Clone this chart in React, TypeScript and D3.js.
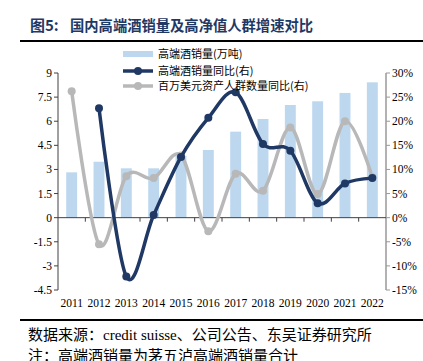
import React from "react";
import * as d3 from "d3";

const years = ["2011","2012","2013","2014","2015","2016","2017","2018","2019","2020","2021","2022"];
const salesVolume = [2.82, 3.48, 3.07, 3.07, 3.85, 4.21, 5.35, 6.14, 7.01, 7.24, 7.76, 8.42];
const salesYoY: (number | null)[] = [null, 22.7, -12.2, 0.55, 12.6, 20.7, 26.0, 15.3, 13.9, 3.0, 7.1, 8.2];
const hnwiYoY = [26.2, -5.5, 8.6, 8.2, 12.9, -2.8, 9.1, 5.6, 18.7, 4.9, 20.0, 8.4];
const leftTicks = [9, 7.5, 6, 4.5, 3, 1.5, 0, -1.5, -3, -4.5];
const rightTicks = [30, 25, 20, 15, 10, 5, 0, -5, -10, -15];

const DARK = "#1f3864";
const GRAY = "#b8b8b8";
const BAR = "#bdd7ee";
const SERIF = "'Liberation Serif', 'Noto Sans CJK SC', serif";
const CJK = "'Noto Sans CJK SC', 'Liberation Serif', serif";

export default function App() {
  const W = 423, H = 361;
  const x0 = 58, x1 = 386, yTop = 73, yBot = 290;
  const x = d3.scaleBand<string>().domain(years).range([x0, x1]);
  const yL = d3.scaleLinear().domain([-4.5, 9]).range([yBot, yTop]);
  const yR = d3.scaleLinear().domain([-15, 30]).range([yBot, yTop]);
  const cx = (y: string) => (x(y) as number) + x.bandwidth() / 2;
  const barW = x.bandwidth() * 0.4;

  const curve = d3.curveCardinal.tension(0);
  const salesPts = years.map((y, i) => [y, salesYoY[i]] as [string, number | null]).filter(d => d[1] !== null) as [string, number][];
  const lineGen = d3.line<[string, number]>().x(d => cx(d[0])).y(d => yR(d[1])).curve(curve);
  const hnwiPts = years.map((y, i) => [y, hnwiYoY[i]] as [string, number]);

  return (
    <svg width={W} height={H} style={{ position: "absolute", left: 0, top: 0, background: "#fff" }}>
      <text x={30} y={31} fontFamily={CJK} fontWeight="bold" fontSize={15} fill={DARK}>图5:</text>
      <text x={70} y={31} fontFamily={CJK} fontWeight="bold" fontSize={14.3} fill={DARK}>国内高端酒销量及高净值人群增速对比</text>
      <line x1={20} x2={423} y1={41} y2={41} stroke="#000" strokeWidth={2} />

      {years.map((y, i) => (
        <rect key={y} x={cx(y) - barW / 2} y={yL(salesVolume[i])} width={barW} height={yL(0) - yL(salesVolume[i])} fill={BAR} />
      ))}

      {/* left axis */}
      <line x1={x0} x2={x0} y1={yTop} y2={yBot} stroke="#404040" strokeWidth={1} />
      {leftTicks.map(t => (
        <g key={t}>
          <line x1={x0 - 4} x2={x0} y1={yL(t)} y2={yL(t)} stroke="#404040" />
          <text x={x0 - 6} y={yL(t) + 4} textAnchor="end" fontFamily={SERIF} fontSize={11.5} fill="#000">{t}</text>
        </g>
      ))}
      {/* right axis */}
      <line x1={x1} x2={x1} y1={yTop} y2={yBot} stroke="#999" strokeWidth={1.5} />
      {rightTicks.map(t => (
        <g key={t}>
          <line x1={x1} x2={x1 + 4} y1={yR(t)} y2={yR(t)} stroke="#999" />
          <text x={x1 + 6} y={yR(t) + 4} textAnchor="start" fontFamily={SERIF} fontSize={11.5} fill="#000">{t}%</text>
        </g>
      ))}
      {/* zero line */}
      <line x1={x0} x2={x1} y1={yL(0)} y2={yL(0)} stroke="#404040" strokeWidth={1} />
      {years.slice(1).map(y => (
        <line key={y} x1={x(y) as number} x2={x(y) as number} y1={yL(0)} y2={yL(0) + 4} stroke="#404040" />
      ))}
      {years.map(y => (
        <text key={y} x={cx(y)} y={307} textAnchor="middle" fontFamily={SERIF} fontSize={11.5} fill="#000">{y}</text>
      ))}

      {/* gray line */}
      <path d={lineGen(hnwiPts) || ""} fill="none" stroke={GRAY} strokeWidth={3.5} />
      {hnwiPts.map(d => <circle key={d[0]} cx={cx(d[0])} cy={yR(d[1])} r={4} fill={GRAY} />)}
      {/* dark line */}
      <path d={lineGen(salesPts) || ""} fill="none" stroke={DARK} strokeWidth={3.5} />
      {salesPts.map(d => <circle key={d[0]} cx={cx(d[0])} cy={yR(d[1])} r={4} fill={DARK} />)}

      {/* legend */}
      <rect x={123} y={51} width={30} height={6} fill={BAR} />
      <text x={158} y={58} fontFamily={CJK} fontSize={11} fill="#000">高端酒销量(万吨)</text>
      <line x1={123} x2={153} y1={71} y2={71} stroke={DARK} strokeWidth={3.5} />
      <circle cx={138} cy={71} r={4} fill={DARK} />
      <text x={158} y={75} fontFamily={CJK} fontSize={11} fill="#000">高端酒销量同比(右)</text>
      <line x1={123} x2={153} y1={86} y2={86} stroke={GRAY} strokeWidth={3.5} />
      <circle cx={138} cy={86} r={4} fill={GRAY} />
      <text x={158} y={90} fontFamily={CJK} fontSize={11} fill="#000">百万美元资产人群数量同比(右)</text>

      {/* footer */}
      <line x1={20} x2={423} y1={320} y2={320} stroke="#000" strokeWidth={2} />
      <text x={28} y={340} fontFamily={SERIF} fontSize={15} fill="#000">
        <tspan fontFamily={CJK}>数据来源：</tspan>credit suisse<tspan fontFamily={CJK}>、公司公告、东吴证券研究所</tspan>
      </text>
      <text x={28} y={361} fontFamily={CJK} fontSize={15} fill="#000">注：高端酒销量为茅五泸高端酒销量合计</text>
    </svg>
  );
}
